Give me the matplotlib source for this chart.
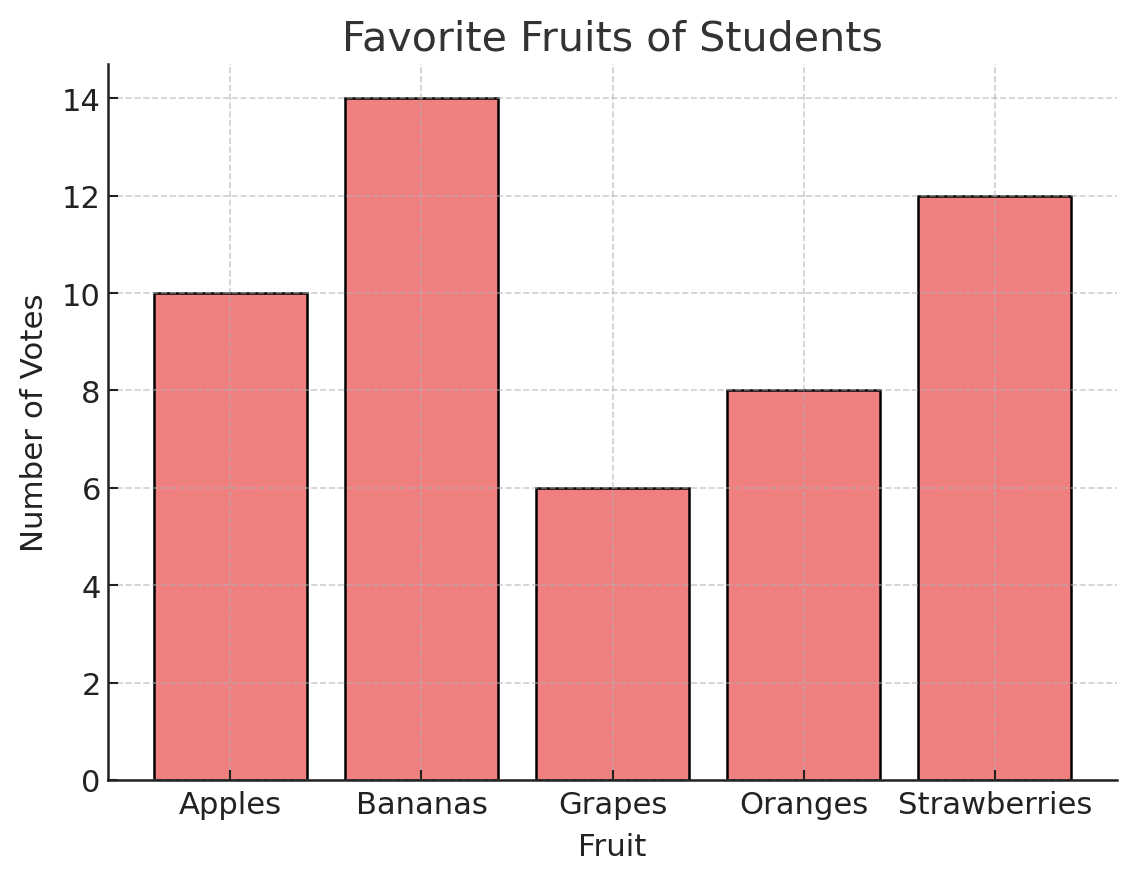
import matplotlib.pyplot as plt

# Data
fruits = ['Apples', 'Bananas', 'Grapes', 'Oranges', 'Strawberries']
votes = [10, 14, 6, 8, 12]

# Figure
fig = plt.figure(figsize=(1135 / 150, 880 / 150), dpi=150)
ax = fig.add_axes([0.0952, 0.1125, 0.889, 0.8135])

ax.bar(fruits, votes, color='lightcoral', edgecolor='black', linewidth=1.2)

ax.set_title('Favorite Fruits of Students', fontsize=19.8, color='#333333', pad=7)
ax.set_xlabel('Fruit', fontsize=14.8, color='#222222', labelpad=6)
ax.set_ylabel('Number of Votes', fontsize=14.8, color='#222222', labelpad=6)

ax.tick_params(axis='both', direction='in', labelsize=14.7, colors='#222222',
               length=5, width=1)
ax.tick_params(axis='x', pad=5)
ax.grid(True, linestyle='--', color='#b0b0b0', alpha=0.6, linewidth=0.8)

for side in ['top', 'right']:
    ax.spines[side].set_visible(False)
for side in ['left', 'bottom']:
    ax.spines[side].set_linewidth(1.2)
    ax.spines[side].set_color('#222222')

fig.savefig('out.png', dpi=150)
